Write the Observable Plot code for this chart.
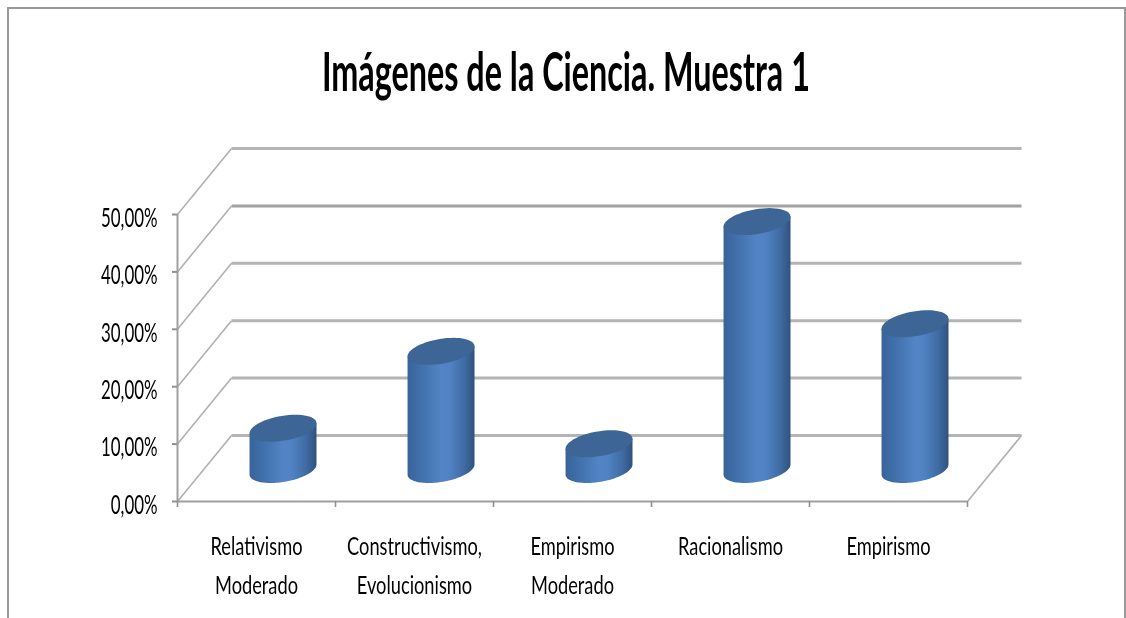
<!DOCTYPE html>
<html lang="es">
<head>
<meta charset="utf-8">
<script src="https://cdn.jsdelivr.net/npm/d3@7"></script>
<script src="https://cdn.jsdelivr.net/npm/@observablehq/plot@0.6"></script>
<style>
  html, body { margin: 0; padding: 0; background: #fff; overflow: hidden; }
  #page { position: relative; width: 1126px; height: 618px; overflow: hidden; }
  #frame { position: absolute; left: 6.5px; top: 7px; width: 1119px; height: 640px; border: 2px solid #999; box-sizing: border-box; }
  #title { position: absolute; left: 0; top: 0; width: 1132px; height: 115px; margin: 0; text-align: center;
    font: bold 53px/141px Lato, "Liberation Sans", sans-serif; color: #000; white-space: nowrap; }
  #title span { display: inline-block; transform-origin: center; }
  #chart { position: absolute; left: 0; top: 115px; filter: blur(0.4px); }
  #chart svg { display: block; overflow: visible; }
</style>
</head>
<body>
<div id="page">
  <div id="frame"></div>
  <h1 id="title"><span>Imágenes de la Ciencia. Muestra 1</span></h1>
  <div id="chart"></div>
</div>
<script>
const categories = ["Relativismo\nModerado", "Constructivismo,\nEvolucionismo", "Empirismo\nModerado", "Racionalismo", "Empirismo"];
const values = [7.1, 20.5, 4.4, 43.1, 25.3];
const yTicks = [0, 10, 20, 30, 40, 50];
const xEdges = [0, 1, 2, 3, 4, 5];

// depth of the 3D box, expressed in scale units
const depthX = 0.342;
const depthY = 11.5;

const rows = categories.map((c, i) => ({category: c, pos: i + 0.5, value: values[i]}));
const pct = d => d.toFixed(2).replace(".", ",") + "%";

function cylinders(index, scales, vals) {
  const g = d3.create("svg:g");
  const defs = g.append("defs");
  const grad = defs.append("linearGradient").attr("id", "cyl").attr("x1", 0).attr("x2", 1).attr("y1", 0).attr("y2", 0);
  [[0, "#38639a"], [0.18, "#406fa8"], [0.5, "#5284c6"], [0.62, "#5183c4"], [0.85, "#3f6ba2"], [1, "#2f527f"]]
    .forEach(([o, c]) => grad.append("stop").attr("offset", o).attr("stop-color", c));
  const ux = 31.1, vx = 12.4, vy = -13.5;
  const phase = Math.atan2(vx, ux);
  const pt = (cx, cy, t) => [cx + ux * Math.cos(t) + vx * Math.sin(t), cy + vy * Math.sin(t)];
  const ts = d3.range(0, 61).map(k => k / 60);
  const base = scales.y(depthY / 2) + 1.5;
  for (const i of index) {
    const cx = vals.x[i], top = vals.y[i] + 1;
    const lower = ts.map(f => phase - f * Math.PI);
    const body = [pt(cx, top, phase), ...lower.map(t => pt(cx, base, t)), pt(cx, top, phase - Math.PI)];
    g.append("path").attr("d", d3.line()(body) + "Z").attr("fill", "url(#cyl)");
    const ring = ts.map(f => f * 2 * Math.PI);
    g.append("path").attr("d", d3.line()(ring.map(t => pt(cx, top, t))) + "Z").attr("fill", "#3d6596");
  }
  return g.node();
}

const plot = Plot.plot({
  width: 1126,
  height: 503,
  marginLeft: 177,
  marginRight: 159,
  marginTop: 99,
  marginBottom: 117,
  style: {background: "transparent"},
  x: {domain: [0, 5], axis: null},
  y: {domain: [0, 50], axis: null},
  marks: [
    Plot.link(yTicks, {x1: depthX, x2: 5 + depthX, y1: d => d + depthY, y2: d => d + depthY,
      stroke: d => d === 40 ? "#a2a2a2" : "#b4b4b4", strokeWidth: 3, strokeLinecap: "butt"}),
    Plot.link(yTicks, {x1: 0, x2: depthX, y1: d => d, y2: d => d + depthY, stroke: "#b0b0b0", strokeWidth: 1.6}),
    Plot.link([5], {x1: d => d, x2: d => d + depthX, y1: 0, y2: depthY, stroke: "#b0b0b0", strokeWidth: 1.6}),
    Plot.ruleX([0], {y1: 0, y2: 50, stroke: "#a0a0a0", strokeWidth: 2}),
    Plot.ruleY([0], {x1: 0, x2: 5, stroke: "#a0a0a0", strokeWidth: 2}),
    Plot.axisY({ticks: yTicks, tickSize: 5, tickPadding: 15, stroke: "#909090", tickFormat: pct, strokeWidth: 2,
      fontSize: 26, fontFamily: "Lato", fill: "#000", textStroke: "none", label: null, anchor: "left", color: "#000"}),
    Plot.axisX({ticks: xEdges, tickSize: 6, stroke: "#909090", strokeWidth: 1.6, tickFormat: () => "", label: null, anchor: "bottom"}),
    Plot.text(rows, {x: "pos", y: 0, text: "category", dy: 26, lineAnchor: "top", lineHeight: 1.56,
      fontSize: 25, fontFamily: "Lato", fill: "#000"}),
    Plot.dot(rows, {x: d => d.pos + depthX / 2, y: d => d.value + depthY / 2, render: cylinders})
  ]
});
document.getElementById("chart").appendChild(plot);

// The reference uses a condensed face: squeeze the text horizontally, keeping it real text.
const yLabels = new Set(plot.querySelectorAll('[aria-label="y-axis tick label"] text'));
plot.querySelectorAll("text").forEach(t => {
  const cur = t.getAttribute("transform") || "";
  t.setAttribute("transform", cur + (yLabels.has(t) ? " translate(0,4) scale(0.65,1)" : " scale(0.73,1)"));
});
const span = document.querySelector("#title span");
span.style.transform = `scaleX(${488 / span.getBoundingClientRect().width})`;
</script>
</body>
</html>
